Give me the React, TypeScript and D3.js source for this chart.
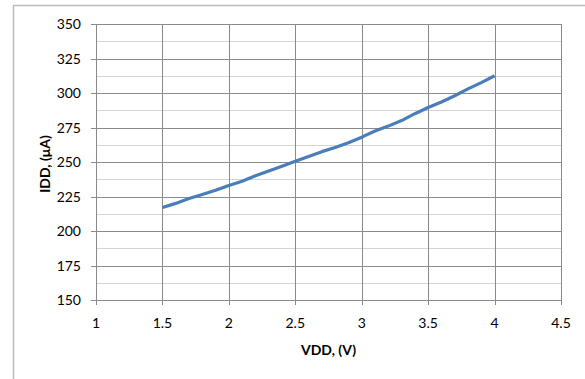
import React, { useEffect, useRef } from 'react';
import * as d3 from 'd3';

// supply voltage (V) and measured current (uA)
const vdd = [1.5, 1.6, 1.7, 1.8, 1.9, 2.0, 2.1, 2.2, 2.3, 2.4, 2.5, 2.6, 2.7, 2.8, 2.9, 3.0, 3.1, 3.2, 3.3, 3.4, 3.5, 3.6, 3.7, 3.8, 3.9, 4.0];
const idd = [217, 220, 223.5, 226.5, 229.5, 233, 236, 240, 243.5, 247, 250.5, 254, 257.5, 260.5, 264, 268, 272.5, 276, 280, 285, 289.5, 293.5, 298, 303, 307.5, 312.5];

const xTicks = [1, 1.5, 2, 2.5, 3, 3.5, 4, 4.5];
const yTicks = [150, 175, 200, 225, 250, 275, 300, 325, 350];
const yMinor = [162.5, 187.5, 212.5, 237.5, 262.5, 287.5, 312.5, 337.5];

const App = () => {
  const svgRef = useRef(null);
  const W = 585, H = 379;
  const margin = { top: 24, right: 24, bottom: 79, left: 96 };

  useEffect(() => {
    const svg = d3.select(svgRef.current);
    svg.selectAll('*').remove();

    const font = 'Lato, "Open Sans", sans-serif';

    // outer chart frame
    svg.append('rect')
      .attr('x', 13.5).attr('y', 5.5)
      .attr('width', W).attr('height', H)
      .attr('fill', 'none').attr('stroke', '#bcbcbc').attr('stroke-width', 1.5);

    const x = d3.scaleLinear().domain([1, 4.5]).range([margin.left, W - margin.right]);
    const y = d3.scaleLinear().domain([150, 350]).range([H - margin.bottom, margin.top]);

    const g = svg.append('g');

    // minor gridlines
    g.selectAll('.minor').data(yMinor).enter().append('line')
      .attr('x1', x(1)).attr('x2', x(4.5))
      .attr('y1', d => Math.round(y(d)) + 0.5).attr('y2', d => Math.round(y(d)) + 0.5)
      .attr('stroke', '#d4d4d4').attr('stroke-width', 1);

    // major horizontal gridlines + ticks
    g.selectAll('.hmaj').data(yTicks).enter().append('line')
      .attr('x1', x(1) - 5).attr('x2', x(4.5))
      .attr('y1', d => Math.round(y(d)) + 0.5).attr('y2', d => Math.round(y(d)) + 0.5)
      .attr('stroke', '#8a8a8a').attr('stroke-width', 1);

    // vertical gridlines + ticks
    g.selectAll('.vmaj').data(xTicks).enter().append('line')
      .attr('x1', d => Math.round(x(d)) + 0.5).attr('x2', d => Math.round(x(d)) + 0.5)
      .attr('y1', y(350)).attr('y2', y(150) + 5)
      .attr('stroke', '#8a8a8a').attr('stroke-width', 1);

    // tick labels
    g.selectAll('.ylab').data(yTicks).enter().append('text')
      .attr('x', x(1) - 15).attr('y', d => y(d) + 5)
      .attr('text-anchor', 'end')
      .attr('font-family', font).attr('font-size', 14).attr('fill', '#000')
      .text(d => d);

    g.selectAll('.xlab').data(xTicks).enter().append('text')
      .attr('x', d => x(d)).attr('y', y(150) + 28)
      .attr('text-anchor', 'middle')
      .attr('font-family', font).attr('font-size', 14).attr('fill', '#000')
      .text(d => d);

    // the curve
    const line = d3.line<number>()
      .x((d, i) => x(vdd[i]))
      .y(d => y(d));
    g.append('path')
      .datum(idd)
      .attr('fill', 'none')
      .attr('stroke', '#4a7ebb')
      .attr('stroke-width', 3.2)
      .attr('stroke-linejoin', 'round')
      .attr('d', line);

    // axis titles
    svg.append('text')
      .attr('x', (x(1) + x(4.5)) / 2).attr('y', 355)
      .attr('text-anchor', 'middle')
      .attr('font-family', font).attr('font-size', 14).attr('font-weight', 'bold')
      .text('VDD, (V)');

    svg.append('text')
      .attr('transform', `translate(50,${(y(150) + y(350)) / 2 + 2}) rotate(-90)`)
      .attr('text-anchor', 'middle')
      .attr('font-family', font).attr('font-size', 14).attr('font-weight', 'bold')
      .text('IDD, (μA)');
  }, []);

  return (
    <svg ref={svgRef} width={W} height={H}
      style={{ position: 'absolute', left: 0, top: 0, background: '#fff' }} />
  );
};

export default App;
